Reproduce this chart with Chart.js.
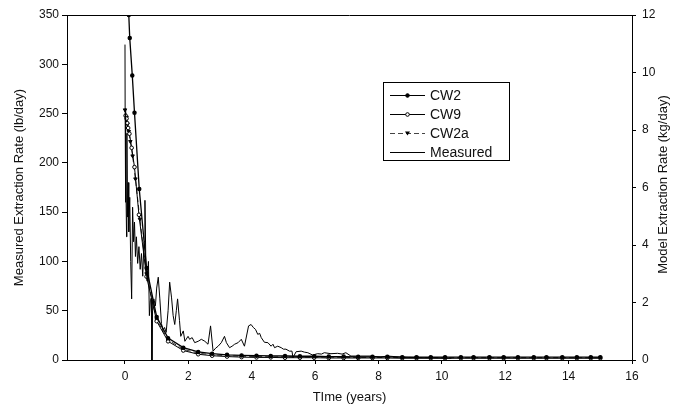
<!DOCTYPE html>
<html>
<head>
<meta charset="utf-8">
<script src="https://cdn.jsdelivr.net/npm/chart.js@4.4.1/dist/chart.umd.min.js"></script>
<style>
  html, body { margin: 0; padding: 0; background: #fff; }
  #wrap { width: 680px; height: 411px; }
</style>
</head>
<body>
<div id="wrap"><canvas id="extraction-chart" width="680" height="411"></canvas></div>
<script>
// measured extraction rate (lb/day), left axis
const measuredT = [0.00, 0.005, 0.01, 0.02, 0.03, 0.05, 0.06, 0.08, 0.10, 0.12, 0.15, 0.18, 0.21, 0.24, 0.27, 0.30,
  0.33, 0.36, 0.40, 0.44, 0.48, 0.52, 0.56, 0.60, 0.63, 0.66, 0.70, 0.74, 0.77, 0.80, 0.83, 0.85, 0.87, 0.91, 0.96,
  1.00, 1.05, 1.10, 1.15, 1.20, 1.25, 1.30, 1.36, 1.41, 1.47, 1.52, 1.57, 1.62, 1.66, 1.72, 1.76, 1.84, 1.89, 1.99,
  2.04, 2.12, 2.20, 2.31, 2.41, 2.52, 2.62, 2.70, 2.78, 2.86, 2.94, 3.04, 3.14, 3.20, 3.30, 3.38, 3.46, 3.57, 3.67,
  3.77, 3.90, 3.98, 4.05, 4.12, 4.19, 4.25, 4.30, 4.40, 4.51, 4.61, 4.67, 4.72, 4.82, 4.93, 5.00, 5.08, 5.19, 5.27,
  5.30, 5.40, 5.56, 5.66, 5.77, 5.92, 6.08, 6.20, 6.29, 6.50, 6.71, 6.85, 6.97, 7.13, 7.44, 7.76, 8.07, 8.28, 8.70,
  9.23, 9.74, 10.3];
const measuredV = [320, 250, 255, 160, 200, 125, 230, 145, 180, 130, 165, 100, 62, 155, 120, 140,
  105, 125, 98, 115, 92, 108, 85, 120, 162, 94, 80, 100, 45, 60, 63, 0, 50, 62, 55,
  73, 84, 62, 37, 30, 33, 28, 50, 79, 63, 45, 36, 50, 62, 40, 24, 29.5, 19, 24,
  21, 22.7, 17.6, 19, 21, 19, 16, 34.6, 9, 12, 14, 17.6, 24, 17.6, 12.5, 14, 16, 17.6, 21,
  14, 34.6, 36, 33, 31, 26, 27, 22.7, 18, 17.6, 14, 16, 12.5, 14, 12.5, 11, 11, 9, 9,
  2.3, 8.4, 9, 8, 7.4, 5, 6.4, 6, 7.4, 6.4, 6.8, 6, 7.4, 4, 4, 4, 3, 4, 3,
  2.3, 2.3, 1.7];

// model extraction rates (kg/day), right axis
const cw2T = [0.12, 0.15, 0.23, 0.30, 0.45, 0.68, 1.00, 1.36, 1.84, 2.31, 2.75, 3.22, 3.68, 4.15, 4.60, 5.05,
  5.52, 5.97, 6.43, 6.90, 7.36, 7.81, 8.28, 8.75, 9.20, 9.65, 10.1, 10.6, 11.0, 11.5, 11.95, 12.4, 12.9, 13.3,
  13.8, 14.26, 14.7, 15.0];
const cw2V = [12.0, 11.2, 9.9, 8.6, 5.95, 3.2, 1.5, 0.76, 0.43, 0.28, 0.22, 0.18, 0.16, 0.15, 0.14, 0.14,
  0.13, 0.13, 0.12, 0.12, 0.11, 0.11, 0.11, 0.10, 0.10, 0.10, 0.10, 0.10, 0.10, 0.10, 0.10, 0.10, 0.10, 0.10,
  0.10, 0.10, 0.10, 0.10];

const cw9T = [0.02, 0.05, 0.07, 0.10, 0.14, 0.21, 0.30, 0.44, 0.68, 1.00, 1.36, 1.84, 2.31, 2.75, 3.22, 3.68,
  4.15, 4.60, 5.05, 5.52, 5.97, 6.43, 6.90, 7.36, 7.81, 8.28, 8.75, 9.20, 9.65, 10.1, 10.6, 11.0, 11.5, 11.95,
  12.4, 12.9, 13.3, 13.8, 14.26, 14.7, 15.0];
const cw9V = [8.5, 8.4, 8.24, 8.07, 7.87, 7.38, 6.71, 5.05, 2.9, 1.35, 0.65, 0.33, 0.20, 0.15, 0.12, 0.10,
  0.09, 0.09, 0.08, 0.08, 0.08, 0.07, 0.07, 0.07, 0.07, 0.07, 0.06, 0.06, 0.06, 0.06, 0.06, 0.06, 0.06, 0.06,
  0.06, 0.06, 0.06, 0.06, 0.06, 0.06, 0.06];

const cw2aT = [0.00, 0.05, 0.08, 0.12, 0.17, 0.24, 0.33, 0.47, 0.68, 1.00, 1.36, 1.84, 2.31, 2.75, 3.22, 3.68,
  4.15, 4.60, 5.05, 5.52, 5.97, 6.43, 6.90, 7.36, 7.81, 8.28, 8.75, 9.20, 9.65, 10.1, 10.6, 11.0, 11.5, 11.95,
  12.4, 12.9, 13.3, 13.8, 14.26, 14.7, 15.0];
const cw2aV = [8.7, 8.45, 8.2, 7.95, 7.6, 7.1, 6.3, 4.9, 3.0, 1.4, 0.70, 0.37, 0.24, 0.18, 0.15, 0.13,
  0.12, 0.11, 0.11, 0.10, 0.10, 0.10, 0.09, 0.09, 0.09, 0.09, 0.09, 0.09, 0.08, 0.08, 0.08, 0.08, 0.08, 0.08,
  0.08, 0.08, 0.08, 0.08, 0.08, 0.08, 0.08];

// tick labels
const xTicks = [0, 2, 4, 6, 8, 10, 12, 14, 16];
const leftTicks = [0, 50, 100, 150, 200, 250, 300, 350];
const rightTicks = [0, 2, 4, 6, 8, 10, 12];

const FONT = "'Liberation Sans', Arial, sans-serif";

function pairs(t, v) {
  return t.map((x, i) => ({ x: x, y: v[i] }));
}

// frame around the plot + legend box
const framePlugin = {
  id: 'frame',
  afterDraw(chart) {
    const ctx = chart.ctx;
    const a = chart.chartArea;
    ctx.save();
    ctx.strokeStyle = '#000';
    ctx.lineWidth = 1;
    ctx.beginPath();
    ctx.moveTo(a.left, a.top + 0.5);
    ctx.lineTo(a.right, a.top + 0.5);
    ctx.stroke();

    // right axis title, reads bottom to top like the left one
    ctx.fillStyle = '#111';
    ctx.font = '13px ' + FONT;
    ctx.textAlign = 'center';
    ctx.textBaseline = 'middle';
    ctx.translate(663, (a.top + a.bottom) / 2 - 3);
    ctx.rotate(-Math.PI / 2);
    ctx.fillText('Model Extraction Rate (kg/day)', 0, 0);
    ctx.restore();

    // legend
    ctx.save();
    ctx.strokeStyle = '#000';
    ctx.lineWidth = 1;
    ctx.strokeRect(383.5, 82.5, 126, 78);
    const items = [
      { label: 'CW2', y: 95, dash: [], marker: 'dot' },
      { label: 'CW9', y: 114, dash: [], marker: 'open' },
      { label: 'CW2a', y: 133, dash: [5, 3], marker: 'tri' },
      { label: 'Measured', y: 152, dash: [], marker: null }
    ];
    ctx.font = '14px ' + FONT;
    ctx.textBaseline = 'middle';
    ctx.textAlign = 'left';
    items.forEach(it => {
      ctx.strokeStyle = it.dash.length ? '#444' : '#000';
      ctx.setLineDash(it.dash);
      ctx.beginPath();
      ctx.moveTo(390, it.y + 0.5);
      ctx.lineTo(425, it.y + 0.5);
      ctx.stroke();
      ctx.setLineDash([]);
      ctx.strokeStyle = '#000';
      if (it.marker === 'dot' || it.marker === 'open') {
        ctx.beginPath();
        ctx.arc(407.5, it.y + 0.5, 1.8, 0, Math.PI * 2);
        ctx.fillStyle = it.marker === 'dot' ? '#000' : '#fff';
        ctx.fill();
        ctx.stroke();
      } else if (it.marker === 'tri') {
        ctx.beginPath();
        ctx.moveTo(405, it.y - 1.5);
        ctx.lineTo(410, it.y - 1.5);
        ctx.lineTo(407.5, it.y + 2.5);
        ctx.closePath();
        ctx.fillStyle = '#000';
        ctx.fill();
      }
      ctx.fillStyle = '#111';
      ctx.fillText(it.label, 430, it.y + 1);
    });
    ctx.restore();
  }
};

new Chart(document.getElementById('extraction-chart'), {
  type: 'line',
  data: {
    datasets: [
      {
        label: 'Measured',
        data: pairs(measuredT, measuredV),
        yAxisID: 'y',
        borderColor: '#000',
        borderWidth: 1,
        pointRadius: 0,
        tension: 0
      },
      {
        label: 'CW2',
        data: pairs(cw2T, cw2V),
        yAxisID: 'y2',
        borderColor: '#000',
        borderWidth: 1.3,
        pointRadius: 1.6,
        pointBackgroundColor: '#000',
        pointBorderColor: '#000',
        tension: 0
      },
      {
        label: 'CW9',
        data: pairs(cw9T, cw9V),
        yAxisID: 'y2',
        borderColor: '#000',
        borderWidth: 1,
        pointRadius: 1.8,
        pointBorderWidth: 1,
        pointBackgroundColor: '#fff',
        pointBorderColor: '#000',
        tension: 0
      },
      {
        label: 'CW2a',
        data: pairs(cw2aT, cw2aV),
        yAxisID: 'y2',
        borderColor: '#333',
        borderWidth: 1,
        borderDash: [5, 3],
        pointStyle: 'triangle',
        rotation: 180,
        pointRadius: 2,
        pointBackgroundColor: '#000',
        pointBorderColor: '#000',
        tension: 0
      }
    ]
  },
  options: {
    responsive: false,
    animation: false,
    layout: { padding: { top: 15, left: 0, right: 0, bottom: 0 } },
    plugins: {
      legend: { display: false },
      tooltip: { enabled: false }
    },
    scales: {
      x: {
        type: 'linear',
        min: -1.83,
        max: 16,
        afterBuildTicks: s => { s.ticks = xTicks.map(v => ({ value: v })); },
        afterFit: s => { s.height = 51; },
        grid: { drawOnChartArea: false, drawTicks: true, tickLength: 4, color: '#000' },
        border: { display: true, color: '#000', width: 1 },
        ticks: { color: '#111', font: { family: FONT, size: 12 }, padding: 5, maxRotation: 0 },
        title: { display: true, text: 'TIme (years)', color: '#111', font: { family: FONT, size: 13 }, padding: { top: 0, bottom: 6 } }
      },
      y: {
        position: 'left',
        min: 0,
        max: 350,
        afterBuildTicks: s => { s.ticks = leftTicks.map(v => ({ value: v })); },
        afterFit: s => { s.width = 67; },
        grid: { drawOnChartArea: false, drawTicks: true, tickLength: 5, color: '#000' },
        border: { display: true, color: '#000', width: 1 },
        ticks: { color: '#111', font: { family: FONT, size: 12 }, padding: 3 },
        title: { display: true, text: 'Measured Extraction Rate (lb/day)', color: '#111', font: { family: FONT, size: 13 }, padding: { top: 12, bottom: 0 } }
      },
      y2: {
        position: 'right',
        min: 0,
        max: 12,
        afterBuildTicks: s => { s.ticks = rightTicks.map(v => ({ value: v })); },
        afterFit: s => { s.width = 48; },
        grid: { drawOnChartArea: false, drawTicks: true, tickLength: 4, color: '#000' },
        border: { display: true, color: '#000', width: 1 },
        ticks: { color: '#111', font: { family: FONT, size: 12 }, padding: 6 }
      }
    }
  },
  plugins: [framePlugin]
});
</script>
</body>
</html>
